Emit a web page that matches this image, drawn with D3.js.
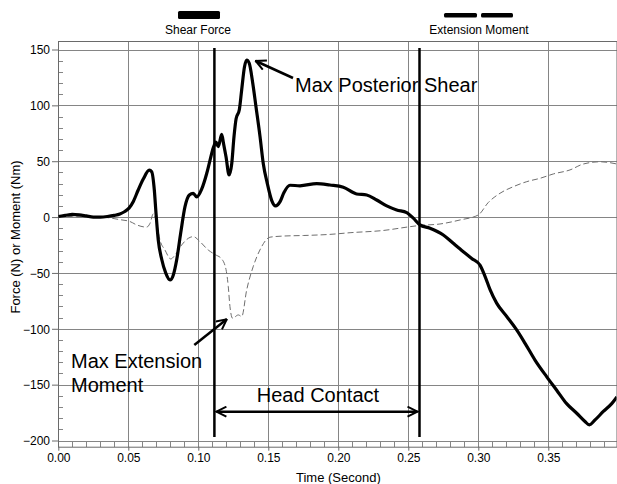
<!DOCTYPE html>
<meta charset="utf-8">
<style>
    body { margin: 0; background: #fff; }
    svg { font-family: Arial, "Liberation Sans", sans-serif; }
    .grid line { stroke: #858585; stroke-width: 1; shape-rendering: crispEdges; }
    .shear { fill: none; stroke: #000; stroke-width: 3.2px; stroke-linejoin: round; }
    .moment { fill: none; stroke: #6e6e6e; stroke-width: 1px; stroke-dasharray: 6 3; }
    .note { font-size: 20px; fill: #000; }
    .tick text { font-size: 12px; fill: #000; }
</style>
<body>
<script src="https://d3js.org/d3.v7.min.js"></script>
<script>
// shear force (solid)
var shearT = [0.000, 0.005, 0.010, 0.015, 0.020, 0.025, 0.030, 0.035, 0.040, 0.044, 0.0475, 0.0505, 0.0536, 0.057, 0.0607, 0.065, 0.0667, 0.0686, 0.0698, 0.0714, 0.0739, 0.0767, 0.0798, 0.0821, 0.0846, 0.0874, 0.0905, 0.0936, 0.0964, 0.0989, 0.1024, 0.106, 0.1084, 0.1107, 0.1126, 0.1143, 0.1167, 0.118, 0.1198, 0.122, 0.1239, 0.1255, 0.127, 0.1293, 0.131, 0.133, 0.1346, 0.1364, 0.1389, 0.1412, 0.1441, 0.1464, 0.1493, 0.1524, 0.1552, 0.1584, 0.1612, 0.1655, 0.1726, 0.1846, 0.194, 0.2036, 0.2131, 0.2203, 0.2274, 0.2346, 0.2417, 0.2489, 0.2536, 0.2583, 0.2655, 0.275, 0.2821, 0.2893, 0.2953, 0.3012, 0.3048, 0.3084, 0.3131, 0.3203, 0.3274, 0.3334, 0.3405, 0.3489, 0.356, 0.3631, 0.3703, 0.3762, 0.3793, 0.3834, 0.3893, 0.3953, 0.399];
var shearV = [0.5, 1.5, 2.5, 2, 1, 0, 0, 0.5, 1.5, 2.8, 5, 8, 14, 24, 34, 42, 40.6, 24, 3.4, -20.5, -38, -50, -56.3, -52, -38, -14.5, 9.3, 19.8, 21.3, 18, 25, 39, 51, 62, 67, 63, 74, 66, 54, 37.7, 48, 72, 88, 96, 114, 134.6, 140.6, 137.7, 119.8, 98.8, 72, 48, 30, 15, 10, 13.8, 22, 28.5, 28, 30, 28.7, 26.7, 20.7, 19.8, 15.3, 10, 6.4, 4, -1, -7, -10, -16, -23.5, -31, -37, -43, -53, -65, -77, -89, -101, -113, -128, -143, -155, -167, -175.6, -183, -186, -181.6, -174, -167, -161];

// extension moment (dashed)
var momentT = [0.000, 0.010, 0.020, 0.030, 0.044, 0.0512, 0.056, 0.0631, 0.0655, 0.0679, 0.0698, 0.0726, 0.0762, 0.0803, 0.0834, 0.0881, 0.0929, 0.0964, 0.1012, 0.1071, 0.1119, 0.1167, 0.1198, 0.1214, 0.1226, 0.1245, 0.1286, 0.131, 0.1346, 0.1393, 0.144, 0.1512, 0.1607, 0.175, 0.194, 0.2084, 0.2321, 0.2512, 0.2583, 0.2726, 0.2869, 0.300, 0.3071, 0.3155, 0.325, 0.3346, 0.3441, 0.3536, 0.3655, 0.375, 0.3869, 0.394, 0.399];
var momentV = [1, 0.5, 0, 0, -2.3, -4, -7, -9, -5.6, 3, -2.6, -20.5, -29.5, -37.5, -34, -25, -19, -17.5, -22, -29.5, -33.5, -37.5, -47, -62, -80, -90.6, -87.6, -89, -65, -44, -29.5, -18, -17, -16.5, -15.5, -14, -12, -8.6, -7.5, -6.2, -2.6, 1.9, 13, 21.3, 27.2, 31.7, 34.7, 38.6, 42.2, 47.5, 49.5, 48.7, 47.5];

var xTicks = [0, 0.05, 0.10, 0.15, 0.20, 0.25, 0.30, 0.35];
var yTicks = [150, 100, 50, 0, -50, -100, -150, -200];
var contactStart = 0.1115, contactEnd = 0.258;

var W = 617, H = 484;
var pl = 58.3, pt = 41, pb = 446.7, pr = 616.5;

var x = d3.scaleLinear().domain([0, 0.4]).range([pl, pl + 560]);
var y = d3.scaleLinear().domain([-200, 150]).range([440.5, 49.5]);

var svg = d3.select("body").append("svg")
    .attr("width", W)
    .attr("height", H);

var defs = svg.append("defs");
defs.append("marker")
    .attr("id", "head")
    .attr("viewBox", "0 0 12 12")
    .attr("refX", 11).attr("refY", 6)
    .attr("markerWidth", 12).attr("markerHeight", 12)
    .attr("markerUnits", "userSpaceOnUse")
    .attr("orient", "auto-start-reverse")
    .append("path")
    .attr("d", "M1,1 L11,6 L1,11")
    .attr("fill", "none")
    .attr("stroke", "#000")
    .attr("stroke-width", 2);

// gridlines
var grid = svg.append("g").attr("class", "grid");
grid.selectAll(".gx").data(d3.range(1, 8).map(function(i) { return i * 0.05; }))
    .enter().append("line")
    .attr("x1", function(d) { return Math.round(x(d)) + 0.5; })
    .attr("x2", function(d) { return Math.round(x(d)) + 0.5; })
    .attr("y1", pt).attr("y2", pb);
grid.selectAll(".gy").data(yTicks)
    .enter().append("line")
    .attr("x1", pl).attr("x2", pr)
    .attr("y1", function(d) { return Math.round(y(d)) + 0.5; })
    .attr("y2", function(d) { return Math.round(y(d)) + 0.5; });

// minor ticks on the left, inside the frame
grid.selectAll(".my").data(d3.range(-200, 151, 10).filter(function(d) { return d % 50 !== 0; }))
    .enter().append("line")
    .attr("x1", pl).attr("x2", pl + 5)
    .attr("y1", function(d) { return Math.round(y(d)) + 0.5; })
    .attr("y2", function(d) { return Math.round(y(d)) + 0.5; });

// ruler strip along the bottom
grid.selectAll(".mx").data(d3.range(0, 40).map(function(i) { return i * 0.01; }))
    .enter().append("line")
    .attr("x1", function(d) { return Math.round(x(d)) + 0.5; })
    .attr("x2", function(d) { return Math.round(x(d)) + 0.5; })
    .attr("y1", y(-200)).attr("y2", pb);

// frame
svg.append("rect")
    .attr("x", Math.round(pl) + 0.5).attr("y", pt + 0.5)
    .attr("width", pr - Math.round(pl)).attr("height", pb - pt)
    .attr("fill", "none").attr("stroke", "#6a6a6a");

// axes
svg.append("g")
    .attr("transform", "translate(0," + pb + ")")
    .call(d3.axisBottom(x).tickValues(xTicks).tickFormat(d3.format(".2f")).tickSize(4).tickPadding(3))
    .call(function(g) { g.select(".domain").remove(); g.selectAll("line").attr("stroke", "#6a6a6a"); });

svg.append("g")
    .attr("transform", "translate(" + Math.round(pl) + ",0)")
    .call(d3.axisLeft(y).tickValues(yTicks).tickSize(6).tickPadding(2))
    .call(function(g) { g.select(".domain").remove(); g.selectAll("line").attr("stroke", "#6a6a6a"); })
    .selectAll("text").attr("dy", "0.36em");

svg.append("text")
    .attr("x", (pl + pr) / 2 + 1).attr("y", 482)
    .attr("text-anchor", "middle").attr("font-size", 13)
    .text("Time (Second)");

svg.append("text")
    .attr("transform", "translate(20,237) rotate(-90)")
    .attr("text-anchor", "middle").attr("font-size", 13)
    .text("Force (N) or Moment (Nm)");

// legend
svg.append("rect").attr("x", 178).attr("y", 11).attr("width", 42).attr("height", 8).attr("rx", 1.5).attr("fill", "#000");
svg.append("text").attr("x", 198).attr("y", 34).attr("text-anchor", "middle").attr("font-size", 12).text("Shear Force");
svg.append("rect").attr("x", 444).attr("y", 13).attr("width", 33).attr("height", 4.5).attr("rx", 1.5).attr("fill", "#000");
svg.append("rect").attr("x", 481).attr("y", 13).attr("width", 32).attr("height", 4.5).attr("rx", 1.5).attr("fill", "#000");
svg.append("text").attr("x", 479).attr("y", 34).attr("text-anchor", "middle").attr("font-size", 12).text("Extension Moment");

// series
defs.append("clipPath").attr("id", "plot")
    .append("rect").attr("x", pl).attr("y", pt).attr("width", pr - pl).attr("height", pb - pt);

var shear = shearT.map(function(t, i) { return { t: t, v: shearV[i] }; });
var moment = momentT.map(function(t, i) { return { t: t, v: momentV[i] }; });

var line = d3.line()
    .x(function(d) { return x(d.t); })
    .y(function(d) { return y(d.v); })
    .curve(d3.curveMonotoneX);

var plot = svg.append("g").attr("clip-path", "url(#plot)");
plot.append("path").datum(moment).attr("class", "moment").attr("d", line);
plot.append("path").datum(shear).attr("class", "shear").attr("d", line);

// head contact markers
[contactStart, contactEnd].forEach(function(t) {
    svg.append("line")
        .attr("x1", x(t)).attr("x2", x(t))
        .attr("y1", 48).attr("y2", 437)
        .attr("stroke", "#000").attr("stroke-width", 2.5);
});

svg.append("line")
    .attr("x1", x(contactStart) + 2).attr("x2", x(contactEnd) - 2)
    .attr("y1", 411.7).attr("y2", 411.7)
    .attr("stroke", "#000").attr("stroke-width", 2.5)
    .attr("marker-start", "url(#head)")
    .attr("marker-end", "url(#head)");

svg.append("text").attr("class", "note")
    .attr("x", (x(contactStart) + x(contactEnd)) / 2 + 1).attr("y", 402)
    .attr("text-anchor", "middle").text("Head Contact");

// max posterior shear
svg.append("line")
    .attr("x1", 293).attr("y1", 78)
    .attr("x2", x(0.1346) + 9).attr("y2", y(140.6) + 1)
    .attr("stroke", "#000").attr("stroke-width", 2.5)
    .attr("marker-end", "url(#head)");
svg.append("text").attr("class", "note").attr("x", 295).attr("y", 92).text("Max Posterior Shear");

// max extension moment
svg.append("line")
    .attr("x1", 194.3).attr("y1", 345)
    .attr("x2", 226.7).attr("y2", 319.3)
    .attr("stroke", "#000").attr("stroke-width", 2.5)
    .attr("marker-end", "url(#head)");
svg.append("text").attr("class", "note").attr("x", 71).attr("y", 368).text("Max Extension");
svg.append("text").attr("class", "note").attr("x", 71).attr("y", 392).text("Moment");
</script>
</body>
